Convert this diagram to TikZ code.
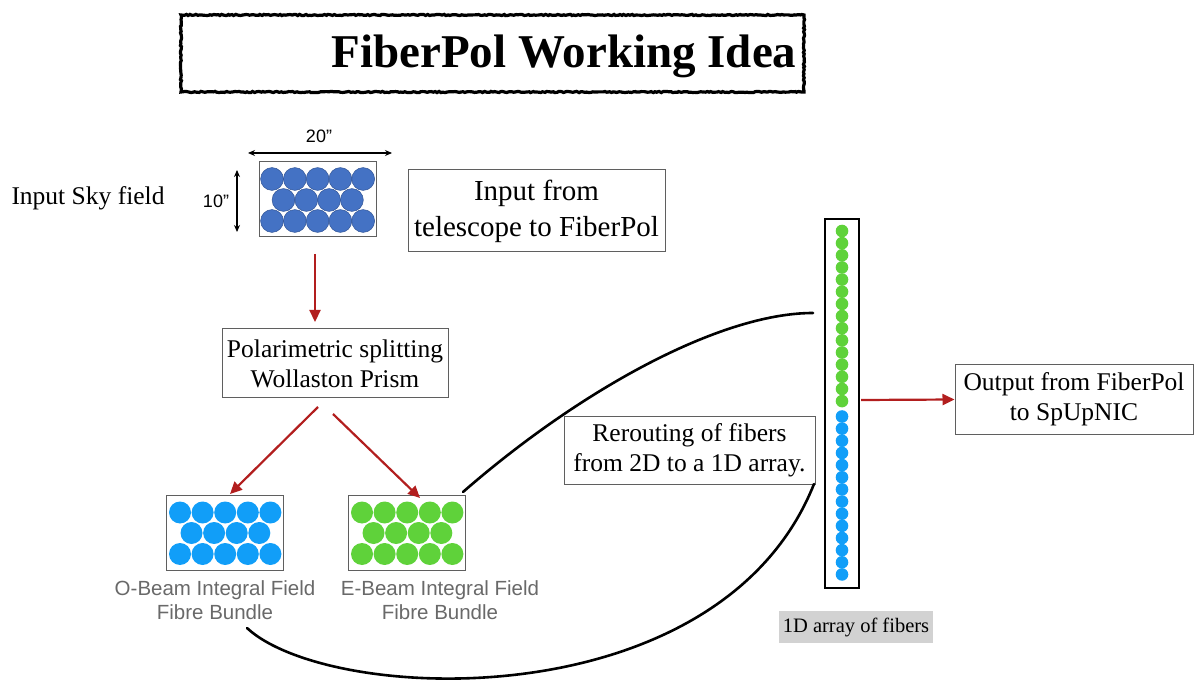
\documentclass[tikz,border=0pt]{standalone}
\usepackage{fontspec}
\setmainfont{Liberation Serif}
\setsansfont{Liberation Sans}
\usetikzlibrary{arrows.meta,decorations.pathmorphing}
\definecolor{skyblue}{RGB}{68,114,196}
\definecolor{skyedge}{RGB}{50,85,150}
\definecolor{obeam}{RGB}{17,158,248}
\definecolor{ebeam}{RGB}{95,210,58}
\definecolor{arrred}{RGB}{178,30,30}
\definecolor{labgray}{RGB}{105,105,105}
\definecolor{boxgray}{RGB}{95,95,95}
\definecolor{lblbg}{RGB}{210,210,210}
\tikzset{
  txtbox/.style={draw=boxgray, line width=1pt, align=center, inner sep=0pt},
  fieldbox/.style={draw=boxgray, line width=1pt, inner sep=0pt, minimum width=117pt, minimum height=75pt},
  redarrow/.style={draw=arrred, line width=2.2pt, -{Triangle[length=12pt,width=11pt]}},
  dimarrow/.style={draw=black, line width=1.1pt, {Stealth[length=7pt,width=6pt]}-{Stealth[length=7pt,width=6pt]}},
  fibre/.style={draw=black, line width=2.6pt, line cap=round},
  beamlabel/.style={text=labgray, align=center, font=\sffamily\fontsize{20.5}{24}\selectfont},
}
\begin{document}
\begin{tikzpicture}[x=1pt,y=-1pt]
\useasboundingbox (0,0) rectangle (1194,684);
% title
\draw[line width=3.2pt, decorate, decoration={random steps, segment length=2pt, amplitude=0.6pt}] (181,15) rectangle (804,92);
\node (title) at (564,56) {\fontsize{47}{47}\selectfont\bfseries FiberPol Working Idea};
% input sky field
\node (skylabel) at (88,198) {\fontsize{25.5}{30}\selectfont Input Sky field};
\node[fieldbox] (sky) at (318,199.5) {};
\foreach \i in {0,...,4} {
  \filldraw[fill=skyblue, draw=skyedge, line width=0.5pt] (272+\i*22.8,179) circle (11.4);
  \filldraw[fill=skyblue, draw=skyedge, line width=0.5pt] (272+\i*22.8,221) circle (11.4);
}
\foreach \i in {0,...,3} {
  \filldraw[fill=skyblue, draw=skyedge, line width=0.5pt] (283.5+\i*22.8,200) circle (11.4);
}
\coordinate (w1) at (248,153);
\coordinate (w2) at (392,153);
\draw[dimarrow] (w1) -- (w2);
\node (wlab) at (319,136) {\sffamily\fontsize{18}{20}\selectfont 20”};
\coordinate (h1) at (237,170);
\coordinate (h2) at (237,232);
\draw[dimarrow] (h1) -- (h2);
\node (hlab) at (216,201) {\sffamily\fontsize{18}{20}\selectfont 10”};
% input from telescope
\node[txtbox, minimum width=257pt, minimum height=82pt, font=\fontsize{29}{36}\selectfont] (input) at (536.5,211) {Input from\\telescope to FiberPol};
% polarimetric splitting
\node[txtbox, minimum width=226pt, minimum height=69pt, font=\fontsize{25.5}{30}\selectfont] (polar) at (335,363.5) {Polarimetric splitting\\Wollaston Prism};
\coordinate (a1s) at (315,254);
\coordinate (a1e) at (315,322);
\draw[redarrow] (a1s) -- (a1e);
% O and E beam bundles
\node[fieldbox] (obox) at (224.5,532.5) {};
\node[fieldbox] (ebox) at (406.5,532.5) {};
\foreach \bx/\col in {166/obeam, 348/ebeam} {
  \foreach \i in {0,...,4} {
    \fill[\col] (\bx+14+\i*22.6,512.5) circle (11);
    \fill[\col] (\bx+14+\i*22.6,554) circle (11);
  }
  \foreach \i in {0,...,3} {
    \fill[\col] (\bx+25.5+\i*22.6,533) circle (11);
  }
}
\node[beamlabel] (olab) at (215,600) {O-Beam Integral Field\\Fibre Bundle};
\node[beamlabel] (elab) at (440,600) {E-Beam Integral Field\\Fibre Bundle};
\coordinate (a2s) at (318,407);
\coordinate (a2e) at (230,494);
\draw[redarrow] (a2s) -- (a2e);
\coordinate (a3s) at (333,414);
\coordinate (a3e) at (420,498);
\draw[redarrow] (a3s) -- (a3e);
% 1D array
\node[draw=black, line width=2pt, minimum width=34pt, minimum height=369pt, inner sep=0pt] (array) at (842,403.5) {};
\foreach \i in {0,...,14} {
  \fill[ebeam] (842,231+\i*12.15) circle (6.3);
}
\foreach \i in {0,...,13} {
  \fill[obeam] (842,416.5+\i*12.15) circle (6.3);
}
\node[fill=lblbg, minimum width=154pt, minimum height=32pt, inner sep=0pt, font=\fontsize{20.5}{24}\selectfont] (arrlab) at (856,627) {1D array of fibers};
% output
\node[txtbox, minimum width=238pt, minimum height=69pt, font=\fontsize{25.5}{30}\selectfont] (output) at (1074,399.5) {Output from FiberPol\\to SpUpNIC};
\coordinate (a4s) at (861,400);
\draw[redarrow] (a4s) -- (output.west);
% rerouting
\node[txtbox, minimum width=251pt, minimum height=68pt, font=\fontsize{25.5}{30}\selectfont] (reroute) at (689.5,450) {Rerouting of fibers\\from 2D to a 1D array.};
% fibre routes
\coordinate (c1s) at (463,492);
\coordinate (c1e) at (813,313);
\draw[fibre] (c1s) .. controls (580,390) and (720,313) .. (c1e);
\coordinate (c2s) at (247,628);
\coordinate (c2e) at (814,484);
\draw[fibre] (c2s) .. controls (330,705) and (720,720) .. (c2e);
\end{tikzpicture}
\end{document}
